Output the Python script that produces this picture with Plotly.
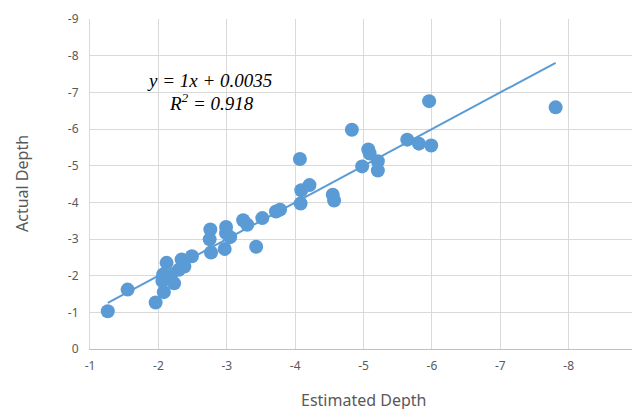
import plotly.graph_objects as go

estimated = [-1.26, -1.55, -1.96, -2.08, -2.07, -2.12, -2.06, -2.23, -2.18, -2.30, -2.34, -2.38,
             -2.49, -2.76, -2.75, -2.77, -2.99, -2.99, -3.05, -2.97, -3.24, -3.30, -3.52, -3.43,
             -3.72, -3.78, -4.08, -4.09, -4.21, -4.07, -4.55, -4.57, -4.83, -4.98, -5.07, -5.09,
             -5.21, -5.21, -5.64, -5.81, -5.99, -5.96, -7.81]
actual = [-1.03, -1.62, -1.27, -1.55, -2.03, -2.35, -1.85, -1.79, -1.98, -2.16, -2.44, -2.25,
          -2.53, -3.26, -2.99, -2.63, -3.33, -3.16, -3.05, -2.73, -3.51, -3.39, -3.57, -2.79,
          -3.75, -3.80, -3.97, -4.33, -4.47, -5.18, -4.21, -4.05, -5.98, -4.98, -5.44, -5.33,
          -5.12, -4.87, -5.71, -5.60, -5.55, -6.76, -6.59]
slope = 1.0
intercept = 0.0035
r2 = 0.918
x_ticks = [-1, -2, -3, -4, -5, -6, -7, -8, -9]
y_ticks = [0, -1, -2, -3, -4, -5, -6, -7, -8, -9]

blue = "#5B9BD5"
grid = "#D9D9D9"
txt = "#595959"

xmin, xmax = max(estimated), min(estimated)
fig = go.Figure()
fig.add_trace(go.Scatter(x=[xmin, xmax], y=[slope * xmin + intercept, slope * xmax + intercept],
                         mode="lines", line=dict(color=blue, width=2), showlegend=False))
fig.add_trace(go.Scatter(x=estimated, y=actual, mode="markers",
                         marker=dict(color=blue, size=14), showlegend=False))

fig.add_annotation(x=-2.75, y=-7.33, xref="x", yref="y",
                   text=f"<i>y = {slope:g}x + {intercept}</i>", showarrow=False,
                   font=dict(family="Liberation Serif", size=19, color="black"))
fig.add_annotation(x=-2.78, y=-6.73, xref="x", yref="y",
                   text=f"<i>R<sup>2</sup> = {r2}</i>", showarrow=False,
                   font=dict(family="Liberation Serif", size=19, color="black"))
fig.add_annotation(x=0.5, y=0, xref="paper", yref="paper", yshift=-51,
                   text="Estimated Depth", showarrow=False, yanchor="middle",
                   font=dict(size=16, color=txt))
fig.add_annotation(x=0, y=0.5, xref="paper", yref="paper", xshift=-68,
                   text="Actual Depth", showarrow=False, textangle=-90, xanchor="center",
                   font=dict(size=16, color=txt))

fig.update_layout(
    width=632, height=401,
    margin=dict(l=82, r=3, t=11, b=60),
    paper_bgcolor="white", plot_bgcolor="white",
    font=dict(family="Noto Sans", size=12, color=txt),
    xaxis=dict(range=[-1, -9], tickvals=x_ticks, ticktext=[str(v) for v in x_ticks],
               showgrid=True, gridcolor=grid, gridwidth=1, zeroline=False,
               showline=True, linecolor="#BFBFBF", linewidth=1, mirror=False,
               ticks="", ticklabelstandoff=6, automargin=False, ticklabeloverflow="allow"),
    yaxis=dict(range=[0, -9], tickvals=y_ticks, ticktext=[str(v) for v in y_ticks],
               showgrid=True, gridcolor=grid, gridwidth=1, zeroline=False,
               showline=True, linecolor=grid, linewidth=1,
               ticks="", ticklabelstandoff=8, automargin=False, ticklabeloverflow="allow"),
)
fig.write_html("out.html")
